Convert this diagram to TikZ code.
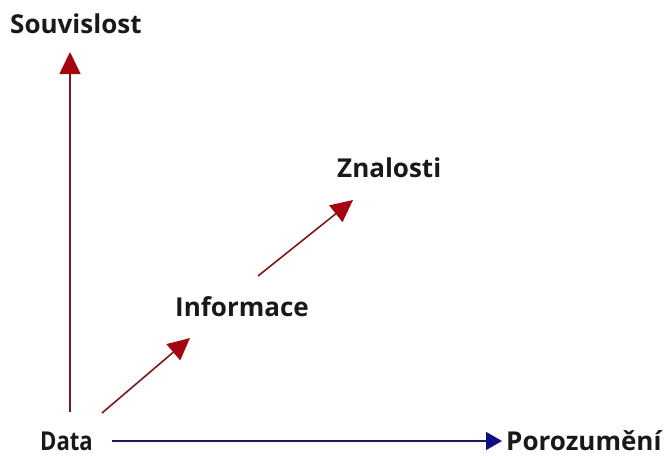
\documentclass[tikz,border=0pt]{standalone}
\usepackage{fontspec}
\setmainfont{Open Sans}[BoldFont={* Bold}]
\usetikzlibrary{arrows.meta}
\definecolor{axisred}{RGB}{125,25,25}
\definecolor{headred}{RGB}{165,5,15}
\definecolor{axisblue}{RGB}{25,25,95}
\definecolor{headblue}{RGB}{15,15,130}
\begin{document}
\begin{tikzpicture}[x=1pt,y=-1pt,
  lbl/.style={font=\bfseries\fontsize{26}{30}\selectfont, inner sep=0pt, text depth=0pt,
    anchor=base west, text=black!90},
  redarrow/.style={draw=axisred, line width=1.6pt,
    -{Triangle[length=22pt,width=21pt,fill=headred,color=headred]}},
  bluearrow/.style={draw=axisblue, line width=1.6pt,
    -{Triangle[length=16pt,width=18pt,fill=headblue,color=headblue]}}]
\useasboundingbox (0,0) rectangle (666,455);
% labels
\node[lbl] (souv) at (10,33) {Souvislost};
\node[lbl] (data) at (40,450) {\scalebox{0.85}[1]{Data}};
\node[lbl] (poro) at (506,450) {Porozumění};
\node[lbl] (info) at (175,316) {Informace};
\node[lbl] (znal) at (337,177) {Znalosti};
% anchor points of the connectors
\coordinate (v0) at (70,412);
\coordinate (v1) at (70,52);
\coordinate (h0) at (112,441);
\coordinate (h1) at (502,441);
\coordinate (d0) at (102,413);
\coordinate (d1) at (190,338);
\coordinate (e0) at (258,276);
\coordinate (e1) at (353,200);
% connectors
\draw[redarrow] (v0) -- (v1);
\draw[redarrow] (d0) -- (d1);
\draw[redarrow] (e0) -- (e1);
\draw[bluearrow] (h0) -- (h1);
\end{tikzpicture}
\end{document}
